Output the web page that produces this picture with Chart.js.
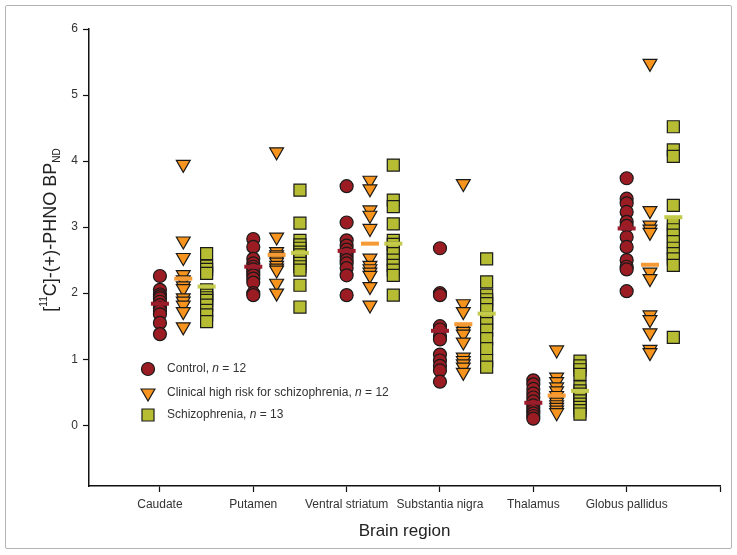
<!DOCTYPE html>
<html>
<head>
<meta charset="utf-8">
<script src="https://cdn.jsdelivr.net/npm/chart.js@4.4.0/dist/chart.umd.min.js"></script>
<style>
  body { margin: 0; background: #fff; }
  #wrap { position: relative; width: 737px; height: 555px; }
  #chart { position: absolute; left: 0; top: 0; }
  #frame { position: absolute; left: 5px; top: 5px; width: 725px; height: 542px;
           border: 1px solid #b4b4b4; border-radius: 2px; pointer-events: none; }
</style>
</head>
<body>
<div id="wrap">
  <canvas id="chart" width="737" height="555"></canvas>
  <div id="frame"></div>
</div>
<script>
// brain regions on the x axis
const regions = ['Caudate', 'Putamen', 'Ventral striatum', 'Substantia nigra', 'Thalamus', 'Globus pallidus'];
const yTicks = [0, 1, 2, 3, 4, 5, 6];

// individual BPND values, one list per region
const control = [
  [2.26, 2.05, 1.98, 1.95, 1.92, 1.87, 1.82, 1.77, 1.73, 1.68, 1.55, 1.38],
  [2.82, 2.70, 2.52, 2.45, 2.40, 2.36, 2.32, 2.27, 2.22, 2.16, 2.00, 1.97],
  [3.62, 3.07, 2.80, 2.72, 2.66, 2.60, 2.55, 2.50, 2.45, 2.38, 2.27, 1.97],
  [2.68, 2.00, 1.97, 1.50, 1.45, 1.35, 1.30, 1.07, 0.98, 0.90, 0.83, 0.66],
  [0.68, 0.62, 0.55, 0.48, 0.42, 0.36, 0.30, 0.26, 0.22, 0.18, 0.14, 0.10],
  [3.74, 3.43, 3.36, 3.23, 3.08, 3.02, 2.85, 2.70, 2.50, 2.40, 2.36, 2.03]
];
const chr = [
  [3.95, 2.79, 2.54, 2.28, 2.20, 2.11, 2.07, 1.93, 1.88, 1.82, 1.72, 1.49],
  [4.14, 2.85, 2.63, 2.58, 2.55, 2.50, 2.47, 2.42, 2.38, 2.35, 2.15, 2.00],
  [3.71, 3.58, 3.26, 3.18, 2.98, 2.53, 2.42, 2.37, 2.32, 2.27, 2.10, 1.82],
  [3.66, 1.84, 1.72, 1.47, 1.42, 1.38, 1.26, 1.03, 0.98, 0.93, 0.88, 0.80],
  [1.14, 0.73, 0.66, 0.58, 0.52, 0.45, 0.40, 0.35, 0.31, 0.27, 0.23, 0.19],
  [5.48, 3.25, 3.03, 2.97, 2.92, 2.32, 2.22, 1.67, 1.60, 1.40, 1.15, 1.10]
];
const scz = [
  [2.60, 2.41, 2.36, 2.30, 2.05, 2.00, 1.97, 1.93, 1.89, 1.82, 1.74, 1.67, 1.57],
  [3.56, 3.06, 2.80, 2.73, 2.68, 2.62, 2.58, 2.50, 2.45, 2.40, 2.35, 2.12, 1.79],
  [3.94, 3.41, 3.31, 3.05, 2.80, 2.74, 2.68, 2.60, 2.50, 2.42, 2.35, 2.27, 1.97],
  [2.52, 2.17, 1.97, 1.90, 1.84, 1.75, 1.62, 1.54, 1.44, 1.31, 1.16, 0.98, 0.88],
  [0.97, 0.90, 0.84, 0.77, 0.58, 0.52, 0.47, 0.42, 0.37, 0.32, 0.27, 0.22, 0.17],
  [4.52, 4.17, 4.07, 3.33, 3.05, 2.96, 2.88, 2.78, 2.68, 2.60, 2.52, 2.42, 1.33]
];

// group means (horizontal bars)
const controlMean = [1.84, 2.40, 2.64, 1.43, 0.34, 2.98];
const chrMean = [2.22, 2.58, 2.75, 1.53, 0.45, 2.43];
const sczMean = [2.10, 2.61, 2.75, 1.69, 0.52, 3.15];

const FONT = '"Liberation Sans", Arial, Helvetica, sans-serif';

function points(lists, shift) {
  const out = [];
  lists.forEach((vals, i) => vals.forEach(v => out.push({ x: i + shift, y: v })));
  return out;
}
function means(vals, shift) {
  return vals.map((v, i) => ({ x: i + shift, y: v }));
}

const groups = [
  { name: 'Control', n: 12, data: control, mean: controlMean, shift: 0,
    style: 'circle', rot: 0, r: 6.5, fill: '#9b1c22', bar: '#9b1c2a' },
  { name: 'Clinical high risk for schizophrenia', n: 12, data: chr, mean: chrMean, shift: 0.25,
    style: 'triangle', rot: 180, r: 8, fill: '#f7941e', bar: '#f59a35' },
  { name: 'Schizophrenia', n: 13, data: scz, mean: sczMean, shift: 0.5,
    style: 'rect', rot: 0, r: 8.5, fill: '#b6bd33', bar: '#c3ca4c' }
];

const datasets = [];
groups.forEach(g => datasets.push({
  label: g.name + ' mean',
  data: means(g.mean, g.shift),
  pointStyle: 'line',
  pointRadius: 9,
  pointBorderWidth: 4,
  borderColor: g.bar,
  backgroundColor: g.bar
}));
groups.forEach(g => datasets.push({
  label: g.name,
  data: points(g.data, g.shift),
  pointStyle: g.style,
  rotation: g.rot,
  pointRadius: g.r,
  pointBorderWidth: 1.2,
  borderColor: '#1a1a1a',
  backgroundColor: g.fill
}));

const yTitle = {
  id: 'yTitle',
  afterDraw(chart) {
    const ctx = chart.ctx;
    const parts = [
      { t: '[', size: 18, dy: 0 },
      { t: '11', size: 10, dy: -7 },
      { t: 'C]-(+)-PHNO BP', size: 18, dy: 0 },
      { t: 'ND', size: 10, dy: 6 }
    ];
    ctx.save();
    ctx.translate(51, 230);
    ctx.rotate(-Math.PI / 2);
    ctx.fillStyle = '#222';
    ctx.textBaseline = 'middle';
    ctx.textAlign = 'left';
    let total = 0;
    parts.forEach(p => { ctx.font = p.size + 'px ' + FONT; p.w = ctx.measureText(p.t).width; total += p.w; });
    let x = -total / 2;
    parts.forEach(p => { ctx.font = p.size + 'px ' + FONT; ctx.fillText(p.t, x, p.dy); x += p.w; });
    ctx.restore();
  }
};

const legendBox = {
  id: 'legendBox',
  afterDraw(chart) {
    const ctx = chart.ctx;
    const rowY = [369, 393, 415];
    groups.forEach((g, i) => {
      const y = rowY[i];
      ctx.save();
      ctx.fillStyle = g.fill;
      ctx.strokeStyle = '#1a1a1a';
      ctx.lineWidth = 1.2;
      Chart.helpers.drawPoint(ctx, { pointStyle: g.style, rotation: g.rot, radius: g.r, borderWidth: 1.2 }, 148, y);
      ctx.fillStyle = '#333';
      ctx.textBaseline = 'middle';
      ctx.textAlign = 'left';
      const segs = [[g.name + ', ', 'normal'], ['n', 'italic'], [' = ' + g.n, 'normal']];
      let x = 167;
      segs.forEach(s => {
        ctx.font = s[1] + ' 12px ' + FONT;
        ctx.fillText(s[0], x, y);
        x += ctx.measureText(s[0]).width;
      });
      ctx.restore();
    });
  }
};

new Chart(document.getElementById('chart'), {
  type: 'scatter',
  data: { datasets },
  options: {
    responsive: false,
    animation: false,
    events: [],
    layout: { padding: { top: 29, right: 17, left: 0, bottom: 0 } },
    plugins: { legend: { display: false }, tooltip: { enabled: false } },
    scales: {
      x: {
        type: 'linear',
        min: -0.76,
        max: 6,
        afterBuildTicks: a => { a.ticks = yTicks.map(v => ({ value: v })); },
        afterFit: a => { a.height = 69; },
        border: { display: true, color: '#111', width: 1.5 },
        grid: { drawOnChartArea: false, drawTicks: true, tickLength: 6, tickColor: '#111', tickWidth: 1.2 },
        ticks: {
          autoSkip: false, maxRotation: 0, padding: 5, color: '#333',
          font: { family: FONT, size: 12 },
          callback: v => regions[v] || ''
        },
        title: {
          display: true, text: 'Brain region', color: '#222',
          font: { family: FONT, size: 17 },
          padding: { top: 2, bottom: 13 }
        }
      },
      y: {
        min: -0.92,
        max: 6,
        afterBuildTicks: a => { a.ticks = yTicks.map(v => ({ value: v })); },
        afterFit: a => { a.width = 89; },
        border: { display: true, color: '#111', width: 1.5 },
        grid: { drawOnChartArea: false, drawTicks: true, tickLength: 6, tickColor: '#111', tickWidth: 1.2 },
        ticks: { padding: 5, color: '#333', font: { family: FONT, size: 12 } }
      }
    }
  },
  plugins: [yTitle, legendBox]
});
</script>
</body>
</html>
